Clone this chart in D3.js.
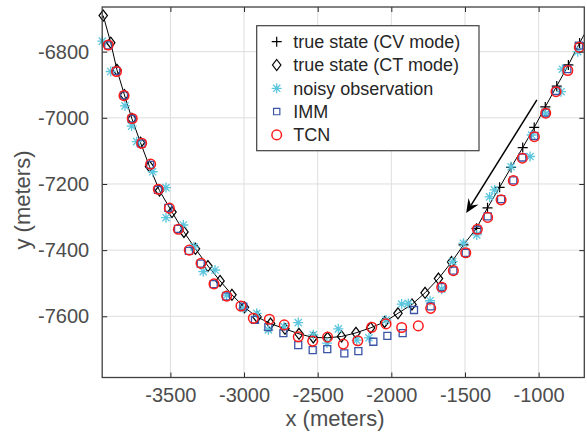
<!DOCTYPE html>
<html>
<head>
<meta charset="utf-8">
<script src="https://cdn.jsdelivr.net/npm/d3@7"></script>
<style>
  body { margin: 0; background: #fff; }
  svg { display: block; font-family: 'Liberation Sans', Arial, Helvetica, sans-serif; }
</style>
</head>
<body>
<div id="chart"></div>
<script>
const WIDTH_PX = 587;
const HEIGHT_PX = 433;
const MARGIN = {top: 7, right: 2.7, bottom: 55.5, left: 102.2};

// true state, CT mode part (meters)
const ctX = [-3956, -3905, -3863, -3812, -3761, -3703, -3642, -3574, -3489, -3408,
  -3330, -3245, -3163, -3082, -2997, -2912, -2820, -2722, -2627, -2530,
  -2433, -2338, -2240, -2141, -2046, -1955, -1860, -1771, -1680, -1591];
const ctY = [-6691, -6773, -6855, -6931, -7003, -7075, -7147, -7220, -7285, -7345,
  -7396, -7448, -7493, -7535, -7573, -7602, -7622, -7638, -7653, -7664,
  -7665, -7661, -7650, -7635, -7617, -7591, -7564, -7529, -7486, -7436];
// true state, CV mode part
const cvX = [-1510, -1422, -1347, -1265, -1187, -1108, -1030, -955, -877, -798, -722, -644];
const cvY = [-7384, -7334, -7272, -7210, -7150, -7090, -7029, -6967, -6904, -6840, -6774, -6710];

const obsX = [-3962, -3905, -3808, -3763, -3729, -3620, -3530, -3530, -3412, -3340,
  -3277, -3197, -3118, -3005, -2914, -2835, -2729, -2632, -2530, -2437,
  -2360, -2235, -2152, -2036, -1930, -1885, -1737, -1658, -1583, -1511,
  -1420, -1333, -1299, -1187, -1058, -1047, -952, -848, -839, -735];
const obsY = [-6768, -6860, -6964, -7025, -7072, -7163, -7211, -7302, -7324, -7390,
  -7465, -7460, -7536, -7576, -7591, -7641, -7631, -7619, -7656, -7681,
  -7638, -7672, -7665, -7611, -7563, -7561, -7553, -7518, -7435, -7379,
  -7354, -7239, -7218, -7148, -7117, -7052, -6988, -6921, -6853, -6800];

const immX = [-3922, -3868, -3815, -3763, -3696, -3637, -3584, -3514, -3448, -3374,
  -3294, -3206, -3122, -3005, -2926, -2835, -2733, -2632, -2534, -2435,
  -2319, -2224, -2122, -2027, -1923, -1846, -1733, -1658, -1579, -1495,
  -1416, -1346, -1255, -1172, -1111, -1029, -952, -882, -805, -726];
const immY = [-6781, -6858, -6932, -7003, -7078, -7142, -7218, -7272, -7336, -7402,
  -7441, -7503, -7540, -7571, -7611, -7633, -7651, -7687, -7702, -7699,
  -7712, -7705, -7677, -7659, -7651, -7581, -7570, -7512, -7462, -7408,
  -7339, -7298, -7246, -7189, -7120, -7055, -6984, -6919, -6853, -6782];

const tcnX = [-3922, -3866, -3815, -3759, -3695, -3634, -3582, -3507, -3446, -3372,
  -3292, -3204, -3118, -3021, -2937, -2828, -2727, -2632, -2534, -2433,
  -2326, -2228, -2133, -2036, -1930, -1817, -1733, -1658, -1579, -1495,
  -1416, -1346, -1255, -1172, -1111, -1029, -952, -882, -802, -724];
const tcnY = [-6780, -6860, -6933, -7002, -7077, -7140, -7216, -7273, -7337, -7400,
  -7440, -7502, -7539, -7569, -7606, -7609, -7626, -7662, -7675, -7663,
  -7684, -7674, -7633, -7623, -7634, -7629, -7576, -7512, -7462, -7408,
  -7337, -7301, -7248, -7190, -7122, -7057, -6986, -6921, -6857, -6787];

const xTicks = [-3500, -3000, -2500, -2000, -1500, -1000];
const yTicks = [-7600, -7400, -7200, -7000, -6800];
const xDomain = [-3963, -690];
const yDomain = [-7785, -6665];
const legendLabels = ['true state (CV mode)', 'true state (CT mode)',
  'noisy observation', 'IMM', 'TCN'];
// direction arrow, from / to (meters)
const arrowFrom = [-1012, -6946];
const arrowTo = [-1492, -7288];

const AXIS_COLOR = '#262626';
const TICK_COLOR = '#4d4d4d';

function markerPath(type) {
  if (type == 'plus') return 'M-5,0H5M0,-5V5';
  if (type == 'diamond') return 'M0,-5.5L4.2,0L0,5.5L-4.2,0Z';
  if (type == 'star') {
    const d = 3.6;
    return 'M-5,0H5M0,-5V5M' + (-d) + ',' + (-d) + 'L' + d + ',' + d +
        'M' + (-d) + ',' + d + 'L' + d + ',' + (-d);
  }
  if (type == 'square') return 'M-3.5,-3.5H3.5V3.5H-3.5Z';
  // circle
  return 'M4.8,0A4.8,4.8 0 1,1 -4.8,0A4.8,4.8 0 1,1 4.8,0Z';
}

const styles = {
  plus: {stroke: '#000', width: 1.2},
  diamond: {stroke: '#000', width: 1.2},
  star: {stroke: '#5cc6de', width: 1.3},
  square: {stroke: '#3a54a6', width: 1.3},
  circle: {stroke: '#ff1a1a', width: 1.5}
};

let svg = d3.select('#chart').append('svg')
    .attr('width', WIDTH_PX)
    .attr('height', HEIGHT_PX);

const plotW = WIDTH_PX - MARGIN.left - MARGIN.right;
const plotH = HEIGHT_PX - MARGIN.top - MARGIN.bottom;

let xScale = d3.scaleLinear().domain(xDomain).range([0, plotW]);
let yScale = d3.scaleLinear().domain(yDomain).range([plotH, 0]);

let g = svg.append('g')
    .attr('transform', 'translate(' + MARGIN.left + ',' + MARGIN.top + ')');

svg.append('defs').append('clipPath').attr('id', 'plotclip')
  .append('rect').attr('width', plotW).attr('height', plotH);

// grid
g.append('g').selectAll('line').data(xTicks).join('line')
    .attr('x1', d => xScale(d)).attr('x2', d => xScale(d))
    .attr('y1', 0).attr('y2', plotH)
    .attr('stroke', '#dedede').attr('stroke-width', 1);
g.append('g').selectAll('line').data(yTicks).join('line')
    .attr('y1', d => yScale(d)).attr('y2', d => yScale(d))
    .attr('x1', 0).attr('x2', plotW)
    .attr('stroke', '#dedede').attr('stroke-width', 1);

function pointsOf(xs, ys) {
  return xs.map((x, i) => ({x: x, y: ys[i]}));
}

const truePts = pointsOf(ctX.concat(cvX), ctY.concat(cvY));

let trueLine = d3.line()
    .x(p => xScale(p.x))
    .y(p => yScale(p.y));

g.append('path')
    .attr('d', trueLine(truePts))
    .attr('clip-path', 'url(#plotclip)')
    .attr('fill', 'none')
    .attr('stroke', '#000')
    .attr('stroke-width', 1);

function inside(p) {
  return p.x >= xDomain[0] - 1 && p.x <= xDomain[1] && p.y >= yDomain[0] && p.y <= yDomain[1];
}

function drawMarkers(pts, type) {
  g.append('g').selectAll('path').data(pts.filter(inside)).join('path')
      .attr('transform', p => 'translate(' + xScale(p.x) + ',' + yScale(p.y) + ')')
      .attr('d', markerPath(type))
      .attr('fill', 'none')
      .attr('stroke', styles[type].stroke)
      .attr('stroke-width', styles[type].width);
}

drawMarkers(pointsOf(cvX, cvY), 'plus');
drawMarkers(pointsOf(ctX, ctY), 'diamond');
drawMarkers(pointsOf(obsX, obsY), 'star');
drawMarkers(pointsOf(immX, immY), 'square');
drawMarkers(pointsOf(tcnX, tcnY), 'circle');

// arrow annotation
const ax0 = xScale(arrowFrom[0]), ay0 = yScale(arrowFrom[1]);
const ax1 = xScale(arrowTo[0]), ay1 = yScale(arrowTo[1]);
const len = Math.hypot(ax1 - ax0, ay1 - ay0);
const ux = (ax1 - ax0) / len, uy = (ay1 - ay0) / len;
const headLen = 14, headHalf = 6, notch = 9;
g.append('line')
    .attr('x1', ax0).attr('y1', ay0)
    .attr('x2', ax1 - notch * ux).attr('y2', ay1 - notch * uy)
    .attr('stroke', '#000').attr('stroke-width', 1.5);
g.append('path')
    .attr('d', 'M' + ax1 + ',' + ay1 +
        'L' + (ax1 - headLen * ux - headHalf * uy) + ',' + (ay1 - headLen * uy + headHalf * ux) +
        'L' + (ax1 - notch * ux) + ',' + (ay1 - notch * uy) +
        'L' + (ax1 - headLen * ux + headHalf * uy) + ',' + (ay1 - headLen * uy - headHalf * ux) + 'Z')
    .attr('fill', '#000');

// axes (box on, ticks inward)
function styleAxis(sel) {
  sel.select('.domain').remove();
  sel.selectAll('line').attr('stroke', AXIS_COLOR);
  sel.selectAll('text').attr('fill', TICK_COLOR).style('font-size', '20px');
}

const plainFormat = d => String(d);

g.append('g')
    .attr('transform', 'translate(0,' + plotH + ')')
    .call(d3.axisBottom(xScale).tickValues(xTicks).tickFormat(plainFormat)
        .tickSizeInner(-5).tickSizeOuter(0).tickPadding(10))
    .call(styleAxis);
g.append('g')
    .call(d3.axisTop(xScale).tickValues(xTicks).tickSizeInner(-5).tickSizeOuter(0).tickFormat(''))
    .call(styleAxis);
g.append('g')
    .call(d3.axisLeft(yScale).tickValues(yTicks).tickFormat(plainFormat)
        .tickSizeInner(-5).tickSizeOuter(0).tickPadding(13))
    .call(styleAxis);
g.append('g')
    .attr('transform', 'translate(' + plotW + ',0)')
    .call(d3.axisRight(yScale).tickValues(yTicks).tickSizeInner(-5).tickSizeOuter(0).tickFormat(''))
    .call(styleAxis);

g.append('rect')
    .attr('width', plotW).attr('height', plotH)
    .attr('fill', 'none')
    .attr('stroke', '#404040').attr('stroke-width', 1.3);

svg.append('text')
    .attr('x', 335).attr('y', 426)
    .attr('text-anchor', 'middle')
    .attr('fill', TICK_COLOR)
    .style('font-size', '22px')
    .text('x (meters)');

svg.append('text')
    .attr('transform', 'translate(30,200) rotate(-90)')
    .attr('text-anchor', 'middle')
    .attr('fill', TICK_COLOR)
    .style('font-size', '22px')
    .text('y (meters)');

// legend
const legendTypes = ['plus', 'diamond', 'star', 'square', 'circle'];
let legend = svg.append('g').attr('transform', 'translate(256.7,25.7)');
legend.append('rect')
    .attr('width', 222.3).attr('height', 125)
    .attr('fill', '#fff')
    .attr('stroke', '#404040').attr('stroke-width', 1.2);
legendLabels.forEach(function(label, i) {
  const type = legendTypes[i];
  const cy = 16 + i * 23.3;
  let mark = legend.append('path')
      .attr('transform', 'translate(20,' + cy + ')')
      .attr('d', markerPath(type))
      .attr('fill', 'none')
      .attr('stroke', styles[type].stroke)
      .attr('stroke-width', styles[type].width);
  if (type == 'square') mark.attr('transform', 'translate(20,' + cy + ') scale(0.9)');
  legend.append('text')
      .attr('x', 36.6).attr('y', cy).attr('dy', '0.35em')
      .attr('fill', AXIS_COLOR)
      .style('font-size', '18px')
      .text(label);
});
</script>
</body>
</html>
